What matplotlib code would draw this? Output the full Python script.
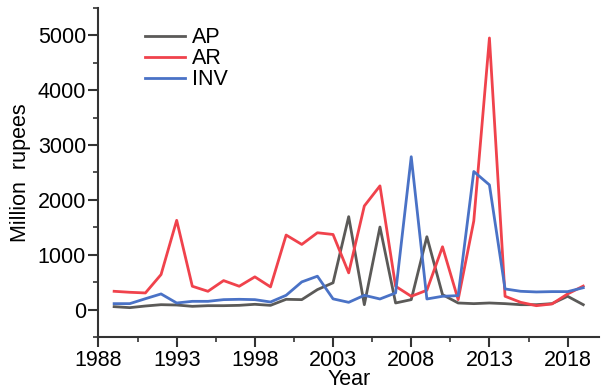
import matplotlib
matplotlib.use("Agg")
import matplotlib.pyplot as plt
import numpy as np

plt.rcParams['font.family'] = ['Liberation Sans', 'DejaVu Sans']

years = list(range(1989, 2020))

# values (million rupees)
ap = [55, 37, 67, 91, 85, 61, 73, 73, 79, 98, 79, 189, 183, 366, 490,
      1695, 91, 1506, 122, 183, 1329, 274, 122, 110, 122, 110, 91, 91, 110, 244, 91]
ar = [335, 317, 305, 640, 1628, 427, 335, 530, 427, 598, 415, 1360, 1189, 1402, 1370,
      671, 1890, 2256, 427, 244, 354, 1146, 183, 1616, 4951, 244, 134, 73, 104, 287, 430]
inv = [110, 110, 200, 287, 122, 152, 152, 183, 189, 183, 140, 262, 506, 610, 197,
       134, 262, 195, 305, 2787, 195, 244, 256, 2518, 2274, 378, 335, 323, 329, 329, 400]

fig = plt.figure(figsize=(6.08, 3.92), dpi=100)
ax = fig.add_axes([0.162, 0.14, 0.823, 0.84])

ax.plot(years, ap, color='#5b5a58', lw=2, label='AP')
ax.plot(years, ar, color='#f0424c', lw=2, label='AR')
ax.plot(years, inv, color='#4a72c6', lw=2, label='INV')

ax.set_xlim(1988, 2020)
ax.set_ylim(-500, 5500)
ax.set_xticks(range(1988, 2019, 5))
ax.set_xticks(np.arange(1990.5, 2020, 5), minor=True)
ax.set_yticks(range(0, 5001, 1000))
ax.set_yticks(range(-500, 5501, 1000), minor=True)

for s in ['top', 'right']:
    ax.spines[s].set_visible(False)
for s in ['left', 'bottom']:
    ax.spines[s].set_linewidth(1.5)
    ax.spines[s].set_color('#333333')
ax.tick_params(which='major', direction='out', length=7, width=1.5, labelsize=15.5,
               color='#333333', pad=2)
ax.tick_params(which='minor', direction='out', length=3.5, width=1.2, color='#333333')

ax.set_xlabel('Year', fontsize=15.5, labelpad=-1)
ax.set_ylabel('Million  rupees', fontsize=15.5, labelpad=5)

ax.legend(loc='upper left', bbox_to_anchor=(0.055, 1.0), frameon=False, fontsize=15.5,
          handlelength=1.85, handletextpad=0.3, labelspacing=0.0)

fig.savefig('out.png', dpi=100)
